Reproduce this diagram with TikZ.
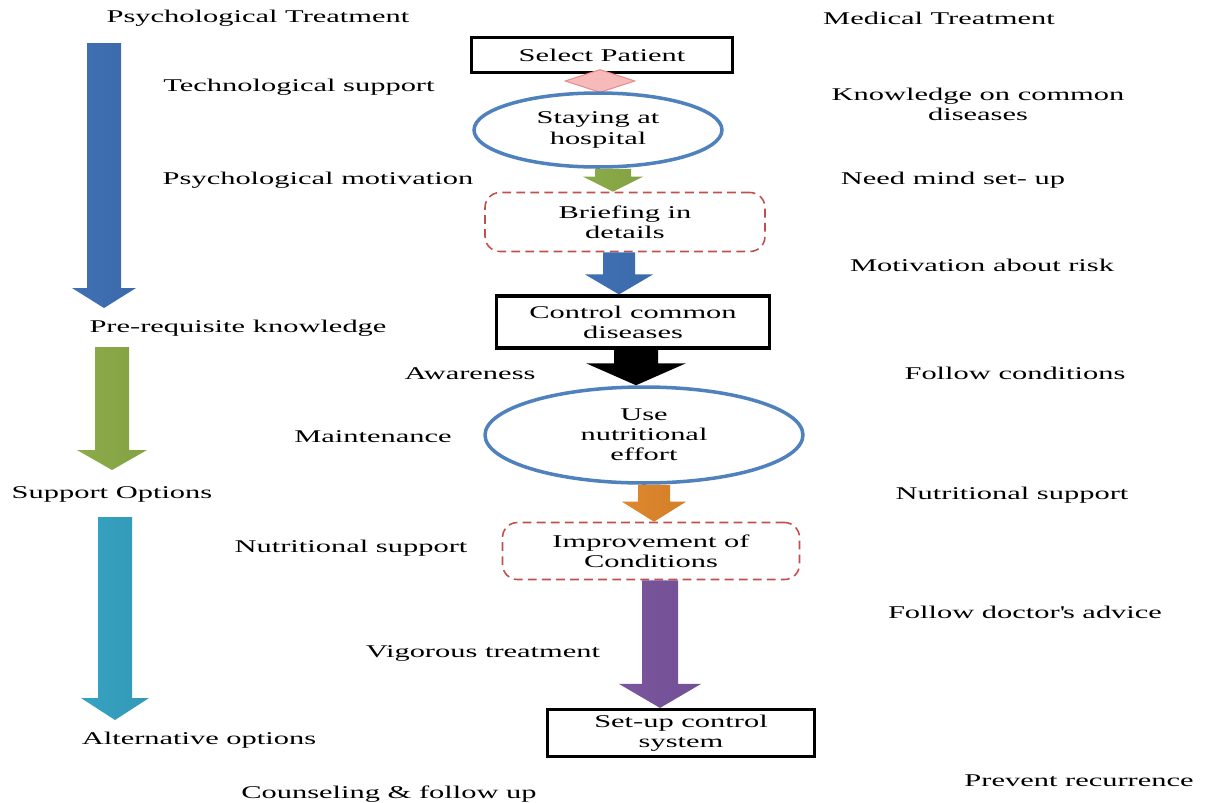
\documentclass[tikz,border=0pt]{standalone}
\usepackage{fontspec}
\setmainfont[FakeStretch=1.7]{Liberation Serif}
\usetikzlibrary{shapes.geometric,calc}

\definecolor{accblue}{RGB}{70,125,200}
\definecolor{accgreen}{RGB}{155,190,80}
\definecolor{acccyan}{RGB}{60,180,215}
\definecolor{accorange}{RGB}{247,150,50}
\definecolor{accpurple}{RGB}{135,95,175}
\definecolor{accred}{RGB}{192,80,77}
\definecolor{ovalblue}{RGB}{79,129,189}
\definecolor{diafill}{RGB}{246,186,186}
\definecolor{diadraw}{RGB}{232,140,140}

\newcommand{\labelfont}{\fontsize{10.2}{11.5}\selectfont}

% block arrow: top, tip, half shaft, half head, head length (px), fill options
\newcommand{\fatarrow}[6]{%
  \path[#6] let \p1=#1, \p2=#2 in
    (\x2-#3*0.02cm,\y1) -- (\x2+#3*0.02cm,\y1) -- (\x2+#3*0.02cm,\y2+#5*0.02cm)
    -- (\x2+#4*0.02cm,\y2+#5*0.02cm) -- (\x2,\y2) -- (\x2-#4*0.02cm,\y2+#5*0.02cm)
    -- (\x2-#3*0.02cm,\y2+#5*0.02cm) -- cycle;}

\tikzset{
  note/.style={font=\labelfont, inner sep=0pt, align=center},
  solidbox/.style={draw, line width=1.8pt, font=\labelfont, align=center, inner sep=0pt},
  dashbox/.style={draw=accred, dashed, dash pattern=on 5pt off 3pt, line width=0.9pt,
    rounded corners=0.3cm, font=\labelfont, align=center, inner sep=0pt},
  oval/.style={ellipse, draw=ovalblue, line width=2pt, font=\labelfont, align=center, inner sep=0pt},
  fatshade/.style={left color=#1!90!black, middle color=#1!80!white, right color=#1!85!black}
}

\begin{document}
\begin{tikzpicture}[x=0.02cm, y=-0.02cm]
\useasboundingbox (0,0) rectangle (1207,802);

% column headings
\node[note] (psy) at (258,18) {Psychological Treatment};
\node[note] (med) at (939,18) {Medical Treatment};

% left side
\coordinate (la1) at (104,43);  \coordinate (lb1) at (104,308);
\coordinate (la2) at (112,347); \coordinate (lb2) at (112,470);
\coordinate (la3) at (115,517); \coordinate (lb3) at (115,720);
\fatarrow{(la1)}{(lb1)}{17}{32}{20}{fatshade=accblue}
\fatarrow{(la2)}{(lb2)}{17}{35}{20}{fatshade=accgreen}
\fatarrow{(la3)}{(lb3)}{17}{34}{22}{fatshade=acccyan}

\node[note] (tech) at (299,87) {Technological support};
\node[note] (motiv) at (318,180) {Psychological motivation};
\node[note] (prereq) at (238,328) {Pre-requisite knowledge};
\node[note] (aware) at (470,374) {Awareness};
\node[note] (maint) at (373,437) {Maintenance};
\node[note] (suppopt) at (112,494) {Support Options};
\node[note] (nutrl) at (351,548) {Nutritional support};
\node[note] (vigor) at (483,653) {Vigorous treatment};
\node[note] (altopt) at (199,740) {Alternative options};
\node[note] (couns) at (389,794) {Counseling \& follow up};

% middle column
\node[solidbox, minimum width=5.22cm, minimum height=0.7cm] (sel) at (602,55) {Select Patient};
\node[diamond, draw=diadraw, fill=diafill, line width=0.6pt, inner sep=0pt,
  minimum width=1.4cm, minimum height=0.46cm] (dia) at (600,81) {};
\node[oval, minimum width=4.96cm, minimum height=1.48cm] (stay) at (598,130) {Staying at\\hospital};
\node[dashbox, minimum width=5.6cm, minimum height=1.18cm] (brief) at (625,222) {Briefing in\\details};
\node[solidbox, minimum width=5.46cm, minimum height=1.04cm] (ctrl) at (633,322) {Control common\\diseases};
\node[oval, minimum width=6.36cm, minimum height=1.92cm] (use) at (644,435) {Use\\nutritional\\effort};
\node[dashbox, minimum width=5.94cm, minimum height=1.14cm] (impr) at (651,551) {Improvement of\\Conditions};
\node[solidbox, minimum width=5.34cm, minimum height=0.94cm] (setup) at (681,733) {Set-up control\\system};

\fatarrow{(stay.south)}{($(brief.north)+(-12,0)$)}{18}{30}{15}{fatshade=accgreen}
\fatarrow{(brief.south)}{($(ctrl.north)+(-14,0)$)}{16}{34}{20}{fatshade=accblue}
\fatarrow{(ctrl.south)}{($(use.north)+(-8,0)$)}{22}{50}{22}{fill=black}
\fatarrow{(use.south)}{($(impr.north)+(3,0)$)}{16}{32}{20}{fatshade=accorange}
\fatarrow{(impr.south)}{($(setup.north)+(-21,0)$)}{18}{41}{24}{fatshade=accpurple}

% right side
\node[note] (know) at (978,104) {Knowledge on common\\diseases};
\node[note] (mind) at (953,180) {Need mind set- up};
\node[note] (risk) at (982,265) {Motivation about risk};
\node[note] (follow) at (1015,373) {Follow conditions};
\node[note] (nutrr) at (1012,495) {Nutritional support};
\node[note] (advice) at (1025,612) {Follow doctor\textquotesingle s advice};
\node[note] (prevent) at (1079,781) {Prevent recurrence};
\end{tikzpicture}
\end{document}
